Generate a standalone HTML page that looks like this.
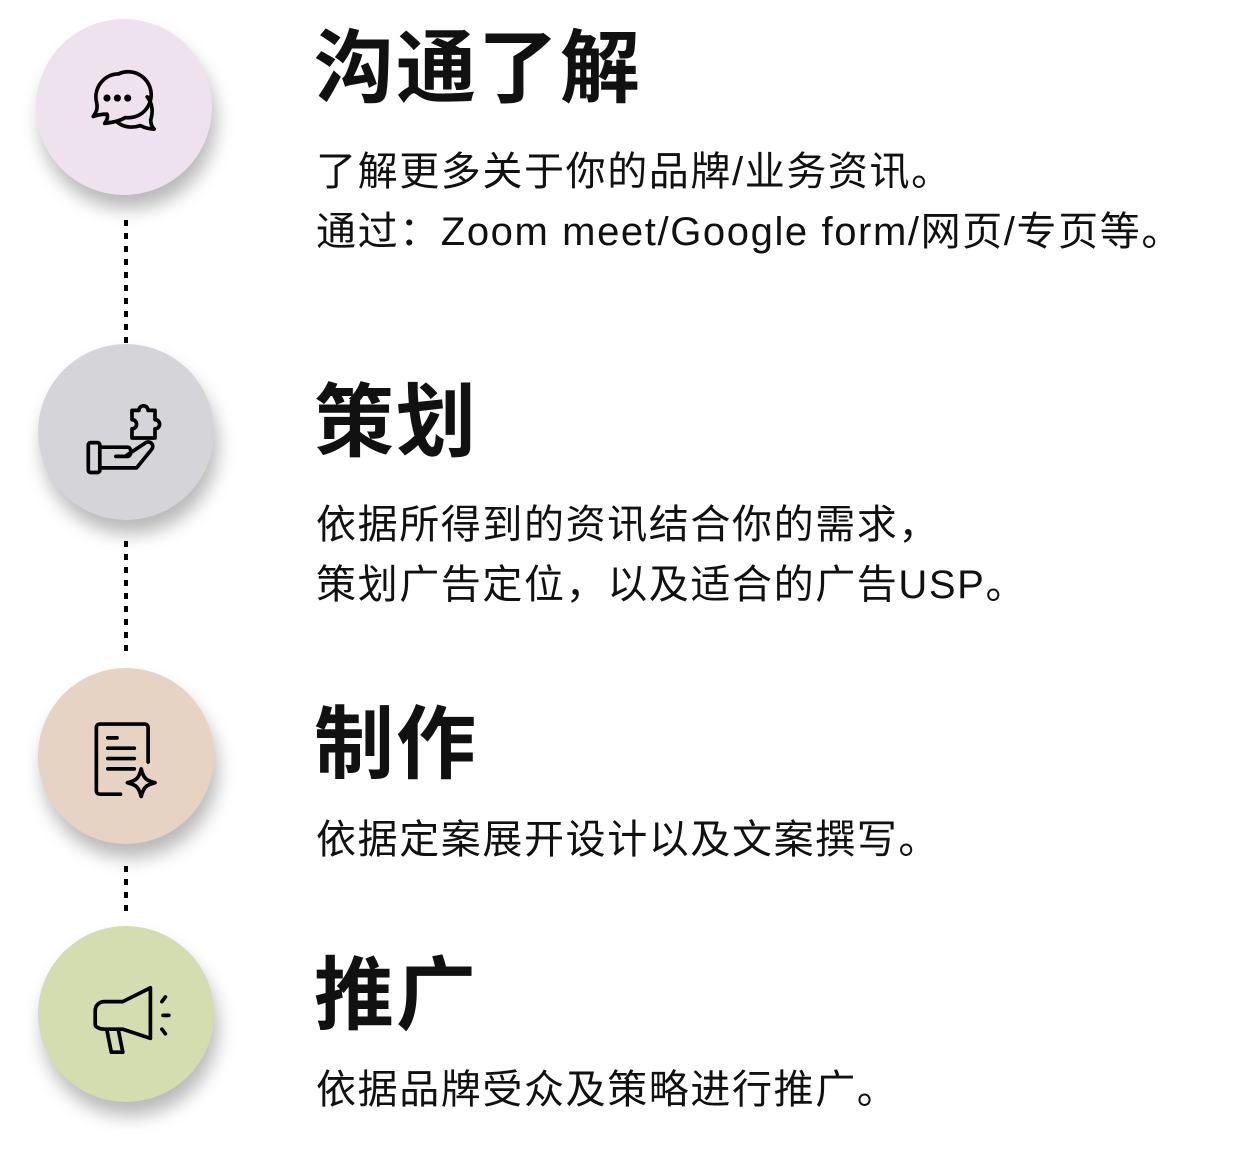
<!DOCTYPE html>
<html><head><meta charset="utf-8"><style>
body{margin:0;width:1254px;height:1154px;background:#fff;position:relative;overflow:hidden;font-family:"Liberation Sans","Noto Sans CJK SC",sans-serif;color:#111}
.c{position:absolute;width:176px;height:176px;border-radius:50%;box-shadow:4px 14px 18px rgba(0,0,0,0.28)}
.c svg{position:absolute;left:48px;top:48px;width:92px;height:92px}
.t{position:absolute;left:314px;font-size:80px;font-weight:700;line-height:80px;white-space:nowrap;font-family:"Noto Sans CJK SC",sans-serif;letter-spacing:2px}
.b{position:absolute;left:316px;font-size:40px;line-height:60px;white-space:nowrap;font-family:"Liberation Sans","Noto Sans CJK SC",sans-serif;letter-spacing:1.6px}
.d{position:absolute;left:124px;width:4px;background:repeating-linear-gradient(to bottom,#000 0 6px,transparent 6px 13px)}
</style></head><body>
<div class="d" style="top:220px;height:126px"></div>
<div class="d" style="top:541px;height:116px"></div>
<div class="d" style="top:866px;height:50px"></div>

<div class="c" style="left:36px;top:19px;background:#ede2ee">
<svg viewBox="0 0 80 80" fill="none" stroke="#000" stroke-width="3.2" stroke-linecap="round" stroke-linejoin="round">
<path d="M30 6a20 20 0 1 1 6 38c-5 3-10 4-18 5 2-3 3-5 2-8-6 0-12 2-12 2 3-4 4-7 3-12A20 20 0 0 1 30 6z"/>
<circle cx="20" cy="27" r="1.5" fill="#000"/><circle cx="29" cy="27" r="1.5" fill="#000"/><circle cx="38" cy="27" r="1.5" fill="#000"/>
<path d="M55 26c5 6 5 14 3 20 0 4 1 6 3 8-6 0-10-2-12-3-6 2-14 2-20-3"/>
</svg></div>

<div class="c" style="left:38px;top:344px;background:#d5d5d9">
<svg viewBox="0 0 80 80" fill="none" stroke="#000" stroke-width="3.2" stroke-linecap="round" stroke-linejoin="round">
<rect x="2" y="44" width="10" height="26" rx="2"/>
<path d="M12 48h24c4 0 4 8 0 8H26m0 0h8l18-12c4-2 8 2 5 6L44 66H12"/>
<path d="M40 24v-8h6a4 4 0 1 1 8 0h6v8a4 4 0 1 1 0 8v8H40v-8a4 4 0 1 0 0-8z"/>
</svg></div>

<div class="c" style="left:38px;top:668px;background:#e6d3c4">
<svg viewBox="0 0 80 80" fill="none" stroke="#000" stroke-width="3.2" stroke-linecap="round" stroke-linejoin="round">
<path d="M30 68H12a3 3 0 0 1-3-3V10a3 3 0 0 1 3-3h39a3 3 0 0 1 3 3v30"/>
<path d="M19 19h8M19 28h23M19 37h23M19 46h23"/>
<path d="M48 46c2 8 4 10 12 12-8 2-10 4-12 12-2-8-4-10-12-12 8-2 10-4 12-12z"/>
</svg></div>

<div class="c" style="left:38px;top:926px;background:#d3ddb0">
<svg viewBox="0 0 80 80" fill="none" stroke="#000" stroke-width="3.2" stroke-linecap="round" stroke-linejoin="round">
<path d="M8 44V32c0-5 4-8 8-8h16l24-12v44L32 48H16c-4 0-8-2-8-4z"/>
<path d="M18 48l4 20h10l-4-20"/>
<path d="M66 24l3-4M67 36h5M66 48l3 4"/>
</svg></div>

<div class="t" style="top:22px">沟通了解</div>
<div class="b" style="top:142px">了解更多关于你的品牌/业务资讯。</div>
<div class="b" style="top:202px">通过：Zoom meet/Google form/网页/专页等。</div>

<div class="t" style="top:376px">策划</div>
<div class="b" style="top:495px">依据所得到的资讯结合你的需求，</div>
<div class="b" style="top:555px">策划广告定位，以及适合的广告USP。</div>

<div class="t" style="top:698px">制作</div>
<div class="b" style="top:810px">依据定案展开设计以及文案撰写。</div>

<div class="t" style="top:949px">推广</div>
<div class="b" style="top:1060px">依据品牌受众及策略进行推广。</div>
</body></html>
